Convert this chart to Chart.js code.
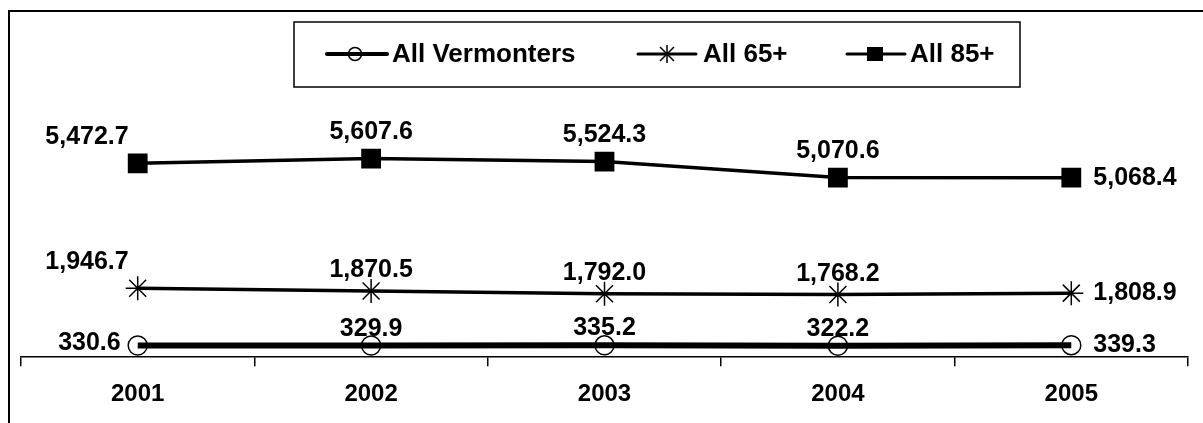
<!DOCTYPE html>
<html>
<head>
<meta charset="utf-8">
<script src="https://cdn.jsdelivr.net/npm/chart.js@4"></script>
<style>
  html, body { margin: 0; padding: 0; background: #fff; }
  canvas { display: block; }
</style>
</head>
<body>
<canvas id="chart" width="1203" height="423"></canvas>
<script>
const years = ['2001', '2002', '2003', '2004', '2005'];
const seriesNames = ['All Vermonters', 'All 65+', 'All 85+'];
const allVermonters = [330.6, 329.9, 335.2, 322.2, 339.3];
const all65 = [1946.7, 1870.5, 1792.0, 1768.2, 1808.9];
const all85 = [5472.7, 5607.6, 5524.3, 5070.6, 5068.4];

const FONT = 'Arial, "Liberation Sans", sans-serif';

const fmt = v => v.toLocaleString('en-US', { minimumFractionDigits: 1, maximumFractionDigits: 1 });

// outer frame (only top + left visible in the picture)
const framePlugin = {
    id: 'frame',
    beforeDraw(chart) {
        const ctx = chart.ctx;
        ctx.save();
        ctx.strokeStyle = '#000';
        ctx.lineWidth = 2;
        ctx.beginPath();
        ctx.moveTo(9, 423);
        ctx.lineTo(9, 11);
        ctx.lineTo(1203, 11);
        ctx.stroke();
        ctx.restore();
    }
};

// value labels next to each point
const valueLabels = {
    id: 'valueLabels',
    afterDatasetsDraw(chart) {
        const ctx = chart.ctx;
        ctx.save();
        ctx.fillStyle = '#000';
        ctx.font = 'bold 25px ' + FONT;
        chart.data.datasets.forEach((ds, i) => {
            const meta = chart.getDatasetMeta(i);
            const last = meta.data.length - 1;
            meta.data.forEach((pt, j) => {
                const txt = fmt(ds.data[j]);
                if (j === 0) {
                    ctx.textAlign = 'right';
                    if (ds.firstLabel === 'left') {
                        ctx.textBaseline = 'middle';
                        ctx.fillText(txt, pt.x - 17, pt.y - 2);
                    } else {
                        ctx.textBaseline = 'alphabetic';
                        ctx.fillText(txt, pt.x - 9, pt.y - 19);
                    }
                } else if (j === last) {
                    ctx.textAlign = 'left';
                    ctx.textBaseline = 'middle';
                    ctx.fillText(txt, pt.x + 22, pt.y);
                } else {
                    ctx.textAlign = 'center';
                    ctx.textBaseline = 'alphabetic';
                    ctx.fillText(txt, pt.x, pt.y - ds.labelGap);
                }
            });
        });
        ctx.restore();
    }
};

// boxed legend in the Excel style
const boxLegend = {
    id: 'boxLegend',
    afterDraw(chart) {
        const ctx = chart.ctx;
        const y = 54;
        ctx.save();
        ctx.strokeStyle = '#000';
        ctx.fillStyle = '#000';
        ctx.lineWidth = 1.5;
        ctx.strokeRect(294, 22, 726, 65);

        const items = [
            { x0: 327, x1: 387, mx: 355, tx: 392, lw: 4, marker: 'circle' },
            { x0: 638, x1: 696, mx: 667, tx: 703, lw: 3, marker: 'star' },
            { x0: 847, x1: 905, mx: 875, tx: 910, lw: 3, marker: 'rect' }
        ];
        ctx.font = 'bold 26px ' + FONT;
        ctx.textAlign = 'left';
        ctx.textBaseline = 'middle';
        items.forEach((it, i) => {
            ctx.lineWidth = it.lw;
            ctx.lineCap = 'round';
            ctx.beginPath();
            ctx.moveTo(it.x0, y);
            ctx.lineTo(it.x1, y);
            ctx.stroke();
            ctx.lineCap = 'butt';
            ctx.lineWidth = 1.5;
            ctx.beginPath();
            if (it.marker === 'circle') {
                ctx.arc(it.mx, y, 6.5, 0, Math.PI * 2);
                ctx.stroke();
            } else if (it.marker === 'star') {
                const s = 7;
                ctx.moveTo(it.mx - s, y - s); ctx.lineTo(it.mx + s, y + s);
                ctx.moveTo(it.mx + s, y - s); ctx.lineTo(it.mx - s, y + s);
                ctx.moveTo(it.mx, y - 9); ctx.lineTo(it.mx, y + 9);
                ctx.stroke();
            } else {
                ctx.fillRect(it.mx - 8, y - 7, 16, 14);
            }
            ctx.fillText(seriesNames[i], it.tx, y + 1);
        });
        ctx.restore();
    }
};

new Chart(document.getElementById('chart'), {
    type: 'line',
    data: {
        labels: years,
        datasets: [
            {
                label: seriesNames[0],
                data: allVermonters,
                borderColor: '#000',
                borderWidth: 6,
                pointStyle: 'circle',
                pointRadius: 9.5,
                pointBorderWidth: 1.5,
                pointBorderColor: '#000',
                pointBackgroundColor: 'rgba(0,0,0,0)',
                firstLabel: 'left',
                labelGap: 10
            },
            {
                label: seriesNames[1],
                data: all65,
                borderColor: '#000',
                borderWidth: 3.5,
                pointStyle: 'star',
                pointRadius: 12,
                pointBorderWidth: 1.5,
                pointBorderColor: '#000',
                pointBackgroundColor: '#000',
                firstLabel: 'upleft',
                labelGap: 14
            },
            {
                label: seriesNames[2],
                data: all85,
                borderColor: '#000',
                borderWidth: 3.5,
                pointStyle: 'rect',
                pointRadius: 14,
                pointBorderWidth: 0,
                pointBackgroundColor: '#000',
                firstLabel: 'upleft',
                labelGap: 20
            }
        ]
    },
    options: {
        responsive: false,
        animation: false,
        layout: { autoPadding: false, padding: { left: 21, right: 15, top: 3, bottom: 0 } },
        elements: { line: { tension: 0 } },
        plugins: {
            legend: { display: false },
            tooltip: { enabled: false }
        },
        scales: {
            x: {
                offset: true,
                grid: {
                    offset: true,
                    drawOnChartArea: false,
                    drawTicks: true,
                    tickLength: 9,
                    color: '#000',
                    lineWidth: 1.5
                },
                border: { display: true, color: '#000', width: 1.5 },
                ticks: {
                    color: '#000',
                    padding: 14,
                    font: { family: FONT, size: 24, weight: 'bold' }
                }
            },
            y: { display: false, min: 0, max: 10000 }
        }
    },
    plugins: [framePlugin, valueLabels, boxLegend]
});
</script>
</body>
</html>
